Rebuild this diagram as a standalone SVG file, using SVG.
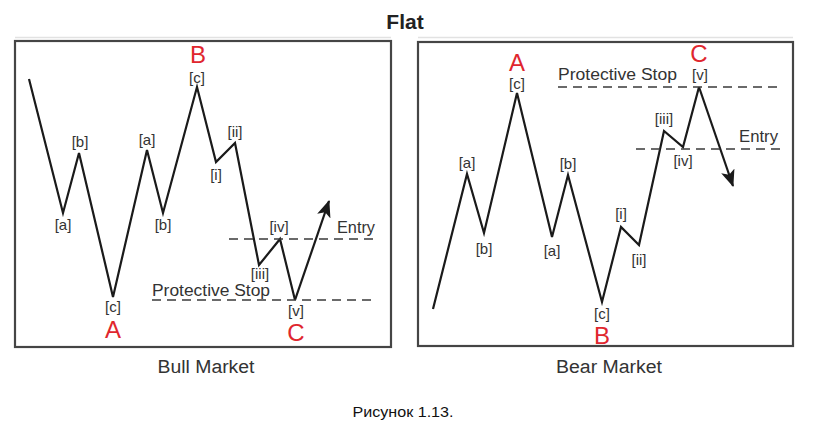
<svg xmlns="http://www.w3.org/2000/svg" width="819" height="429" viewBox="0 0 819 429">
<defs>
<marker id="ah" markerUnits="userSpaceOnUse" markerWidth="18" markerHeight="14" refX="16" refY="7" orient="auto">
<path d="M0,0 L17,7 L0,14 L4,7 z" fill="#1a1a1a"/>
</marker>
<style>
.box{fill:#fff;stroke:#454545;stroke-width:2.2}
.faint{stroke:#e2e2e2;stroke-width:1.5}
.wave{fill:none;stroke:#1a1a1a;stroke-width:2.2;stroke-linejoin:miter}
.dash{stroke:#3a3a3a;stroke-width:1.6;stroke-dasharray:9 6}
.lb{font-family:"Liberation Sans",Arial,sans-serif;font-size:15px;fill:#333;text-anchor:middle}
.big{font-family:"Liberation Sans",Arial,sans-serif;font-size:24px;fill:#e0262e;text-anchor:middle}
.txt{font-family:"Liberation Sans",Arial,sans-serif;font-size:16px;fill:#333}
.cap{font-family:"Liberation Sans",Arial,sans-serif;font-size:18px;fill:#333;text-anchor:middle}
</style>
</defs>
<rect width="819" height="429" fill="#fff"/>
<text x="405" y="29" font-family="Liberation Sans,Arial,sans-serif" font-size="21" font-weight="bold" fill="#222" text-anchor="middle">Flat</text>

<g id="bull-panel">
<line class="faint" x1="15" y1="37.5" x2="391" y2="37.5"/>
<rect class="box" x="15" y="41" width="376" height="306"/>
</g>
<g id="bear-panel">
<line class="faint" x1="418" y1="37.5" x2="793" y2="37.5"/>
<rect class="box" x="418" y="42" width="375" height="304"/>
</g>

<g id="connectors">
<polyline class="wave" points="29,79 63,213 79,153 113,297 147,150 163,213 197,87 216,162 235,143 259,265 280,239 295,300"/>
<line class="wave" x1="295" y1="300" x2="329" y2="201" marker-end="url(#ah)"/>
<line class="dash" x1="229" y1="239" x2="376" y2="239"/>
<line class="dash" x1="152" y1="300" x2="376" y2="300"/>

<polyline class="wave" points="433,309 467,174 484,233 517,93 552,237 568,175 602,302 621,227 639,245 664,131 683,147 699,87"/>
<line class="wave" x1="699" y1="87" x2="733" y2="186" marker-end="url(#ah)"/>
<line class="dash" x1="558" y1="87" x2="781" y2="87"/>
<line class="dash" x1="636" y1="149" x2="781" y2="149"/>
</g>

<g id="bull-labels">
<text class="lb" x="80" y="147">[b]</text>
<text class="lb" x="147" y="145">[a]</text>
<text class="big" x="198" y="63">B</text>
<text class="lb" x="197" y="83">[c]</text>
<text class="lb" x="63" y="230">[a]</text>
<text class="lb" x="163" y="230">[b]</text>
<text class="lb" x="113" y="312">[c]</text>
<text class="big" x="113" y="338">A</text>
<text class="lb" x="216" y="180">[i]</text>
<text class="lb" x="235" y="137">[ii]</text>
<text class="lb" x="260" y="279">[iii]</text>
<text class="lb" x="279" y="232">[iv]</text>
<text class="lb" x="296" y="316">[v]</text>
<text class="big" x="296" y="341">C</text>
<text class="txt" x="337" y="233" textLength="38" lengthAdjust="spacingAndGlyphs">Entry</text>
<text class="txt" x="152" y="296" textLength="118" lengthAdjust="spacingAndGlyphs">Protective Stop</text>
<text class="cap" x="206" y="373" textLength="97" lengthAdjust="spacingAndGlyphs">Bull Market</text>
</g>

<g id="bear-labels">
<text class="big" x="517" y="71">A</text>
<text class="lb" x="517" y="89">[c]</text>
<text class="lb" x="467" y="168">[a]</text>
<text class="lb" x="568" y="169">[b]</text>
<text class="lb" x="484" y="254">[b]</text>
<text class="lb" x="552" y="256">[a]</text>
<text class="lb" x="602" y="319">[c]</text>
<text class="big" x="602" y="344">B</text>
<text class="lb" x="621" y="219">[i]</text>
<text class="lb" x="639" y="265">[ii]</text>
<text class="lb" x="664" y="124">[iii]</text>
<text class="lb" x="683" y="166">[iv]</text>
<text class="lb" x="700" y="80">[v]</text>
<text class="big" x="699" y="62">C</text>
<text class="txt" x="558" y="80" textLength="119" lengthAdjust="spacingAndGlyphs">Protective Stop</text>
<text class="txt" x="739" y="142" textLength="39" lengthAdjust="spacingAndGlyphs">Entry</text>
<text class="cap" x="609" y="373" textLength="106" lengthAdjust="spacingAndGlyphs">Bear Market</text>
</g>

<text x="403" y="417" font-family="Liberation Sans,Arial,sans-serif" font-size="15" fill="#111" text-anchor="middle" textLength="101" lengthAdjust="spacingAndGlyphs">Рисунок 1.13.</text>
</svg>
